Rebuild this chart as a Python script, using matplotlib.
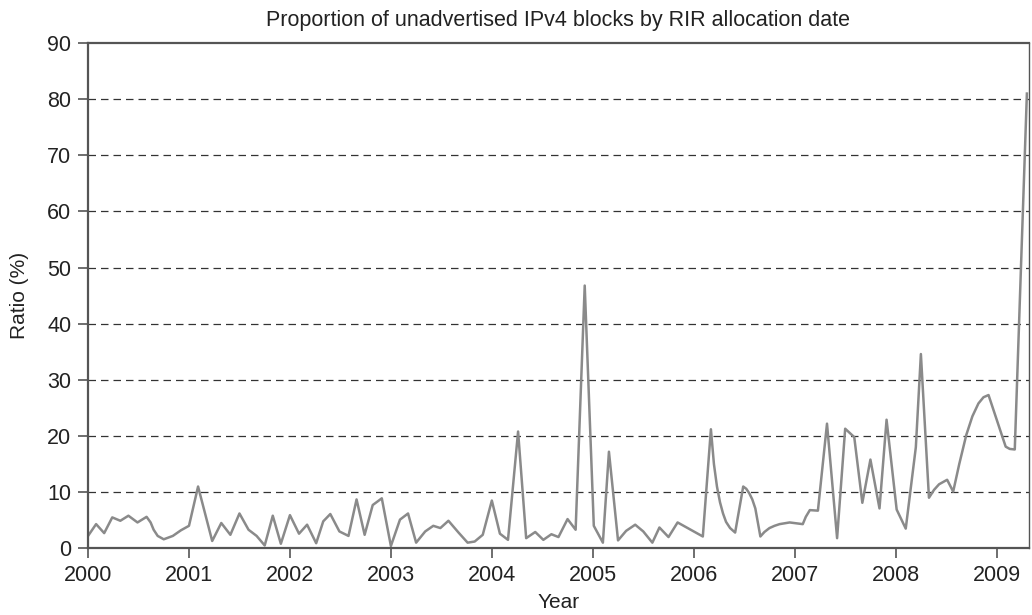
import matplotlib
matplotlib.use("Agg")
import matplotlib.pyplot as plt

plt.rcParams['font.family'] = ['Liberation Sans', 'DejaVu Sans']

# allocation date (decimal year) and share of blocks not seen in BGP (%)
dates = [
    2000.00, 2000.08, 2000.16, 2000.24, 2000.32, 2000.40, 2000.49, 2000.58,
    2000.62, 2000.65, 2000.69, 2000.75, 2000.84, 2000.92,
    2001.00, 2001.09, 2001.23, 2001.32, 2001.41, 2001.50, 2001.59, 2001.67,
    2001.75, 2001.83, 2001.91,
    2002.00, 2002.09, 2002.17, 2002.26, 2002.33, 2002.40, 2002.49, 2002.58,
    2002.66, 2002.74, 2002.82, 2002.91,
    2003.00, 2003.09, 2003.17, 2003.25, 2003.34, 2003.42, 2003.49, 2003.57,
    2003.67, 2003.76, 2003.83, 2003.91,
    2004.00, 2004.08, 2004.16, 2004.26, 2004.34, 2004.43, 2004.51, 2004.59,
    2004.66, 2004.75, 2004.83, 2004.92,
    2005.01, 2005.10, 2005.16, 2005.25, 2005.33, 2005.42, 2005.50, 2005.59,
    2005.66, 2005.75, 2005.84,
    2006.09, 2006.17, 2006.20, 2006.23, 2006.26, 2006.29, 2006.32, 2006.36,
    2006.41, 2006.49, 2006.52, 2006.55, 2006.58, 2006.61, 2006.66,
    2006.70, 2006.75, 2006.80, 2006.85, 2006.95,
    2007.08, 2007.11, 2007.15, 2007.23, 2007.32, 2007.42, 2007.50, 2007.59,
    2007.67, 2007.75, 2007.84, 2007.91,
    2008.01, 2008.10, 2008.20, 2008.25, 2008.33, 2008.38, 2008.43, 2008.51,
    2008.57, 2008.63, 2008.70, 2008.76, 2008.82, 2008.87, 2008.92,
    2009.04, 2009.09, 2009.13, 2009.18, 2009.30,
]
ratio = [
    2.2, 4.3, 2.7, 5.5, 4.9, 5.8, 4.6, 5.6,
    4.6, 3.3, 2.2, 1.6, 2.2, 3.2,
    4.0, 11.0, 1.3, 4.5, 2.4, 6.2, 3.3, 2.2,
    0.5, 5.8, 0.8,
    5.9, 2.6, 4.2, 0.9, 4.8, 6.1, 3.0, 2.2,
    8.7, 2.4, 7.7, 8.9,
    0.4, 5.1, 6.2, 1.0, 3.0, 4.0, 3.6, 4.9,
    2.8, 1.0, 1.2, 2.4,
    8.5, 2.6, 1.5, 20.8, 1.8, 2.9, 1.5, 2.5,
    2.0, 5.2, 3.3, 46.8,
    4.0, 1.0, 17.2, 1.4, 3.1, 4.2, 3.0, 1.0,
    3.7, 2.0, 4.6,
    2.1, 21.2, 15.0, 11.0, 8.2, 6.2, 4.7, 3.6,
    2.8, 11.0, 10.6, 9.8, 8.7, 7.1, 2.1,
    2.9, 3.6, 4.0, 4.3, 4.6,
    4.3, 5.6, 6.8, 6.7, 22.2, 1.8, 21.3, 19.8,
    8.1, 15.8, 7.1, 22.9,
    6.9, 3.5, 18.0, 34.6, 9.0, 10.4, 11.4, 12.2,
    10.1, 15.0, 20.2, 23.5, 25.8, 26.9, 27.3,
    20.8, 18.1, 17.7, 17.6, 81.0,
]
year_ticks = list(range(2000, 2010))
ratio_ticks = list(range(0, 100, 10))

fig = plt.figure(figsize=(10.32, 6.15), dpi=100)
ax = fig.add_axes([0.0853, 0.1085, 0.9117, 0.8215])

for v in ratio_ticks[1:-1]:
    ax.axhline(v, color='#333333', lw=0.9, ls=(0, (6, 4)), zorder=1)

ax.plot(dates, ratio, color='#8a8a8a', lw=1.8, zorder=2)

ax.set_xlim(2000, 2009.32)
ax.set_ylim(0, 90)
ax.set_xticks(year_ticks)
ax.set_yticks(ratio_ticks)
ax.tick_params(direction='out', length=7, width=1.2, color='#555555',
               labelsize=15.5, labelcolor='#222222', pad=5)

for side in ['left', 'bottom', 'top']:
    ax.spines[side].set_color('#555555')
    ax.spines[side].set_linewidth(1.6)
ax.spines['right'].set_color('#555555')
ax.spines['right'].set_linewidth(1.0)

ax.set_title('Proportion of unadvertised IPv4 blocks by RIR allocation date',
             fontsize=15.5, color='#222222', pad=12)
ax.set_xlabel('Year', fontsize=15, color='#222222', labelpad=5)
ax.set_ylabel('Ratio (%)', fontsize=15, color='#222222', labelpad=13)

fig.savefig('out.png', dpi=100)
